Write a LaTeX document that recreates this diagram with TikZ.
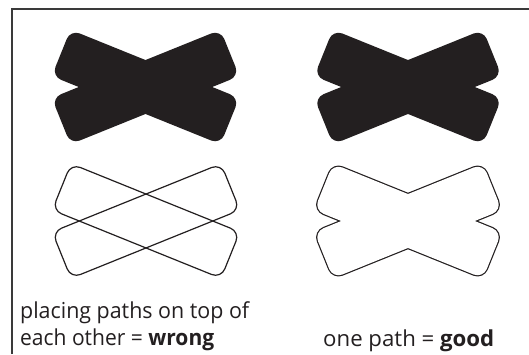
\documentclass[tikz,border=0pt]{standalone}
\usepackage{graphicx}
\usepackage{fontspec}
\setmainfont{Open Sans}
\definecolor{ink}{HTML}{231F20}
\definecolor{framecol}{HTML}{3A3A3A}
\newcommand\bandshape{(-91,-25) -- (91,-25) -- (91,25) -- (-91,25) -- cycle}
\newcommand\fitw[2]{\resizebox{#1}{\height}{#2}}
\tikzset{
  band/.style={rounded corners=10pt},
  lbl/.style={anchor=base west, inner sep=0pt, font=\fontsize{22}{26}\selectfont, text=ink}
}
\begin{document}
\begin{tikzpicture}[x=1pt,y=-1pt]
\useasboundingbox (0,0) rectangle (529,354);
\fill[white] (0,0) rectangle (529,354);
\draw[line width=1.2pt, framecol] (12,354) -- (12,9) -- (529,9);
% filled, left
\begin{scope}[shift={(145.5,87)}]
  \fill[ink,band,rotate=-22] \bandshape;
  \fill[ink,band,rotate=22] \bandshape;
\end{scope}
% filled, right
\begin{scope}[shift={(408,87)}]
  \fill[ink,band,rotate=-22] \bandshape;
  \fill[ink,band,rotate=22] \bandshape;
\end{scope}
% outlines overlapping, left
\begin{scope}[shift={(146,221)}]
  \draw[ink,band,line width=1.2pt,rotate=-22] \bandshape;
  \draw[ink,band,line width=1.2pt,rotate=22] \bandshape;
\end{scope}
% one path, right
\begin{scope}[shift={(408,221)}]
  \draw[ink,band,line width=2.4pt,rotate=-22] \bandshape;
  \draw[ink,band,line width=2.4pt,rotate=22] \bandshape;
  \fill[white,band,rotate=-22] \bandshape;
  \fill[white,band,rotate=22] \bandshape;
\end{scope}
\node[lbl] (t1) at (20,318) {\fitw{229pt}{placing paths on top of}};
\node[lbl] (t2) at (20,345) {\fitw{194pt}{each other = \textbf{wrong}}};
\node[lbl] (t3) at (323,346) {\fitw{171pt}{one path = \textbf{good}}};
\end{tikzpicture}
\end{document}
